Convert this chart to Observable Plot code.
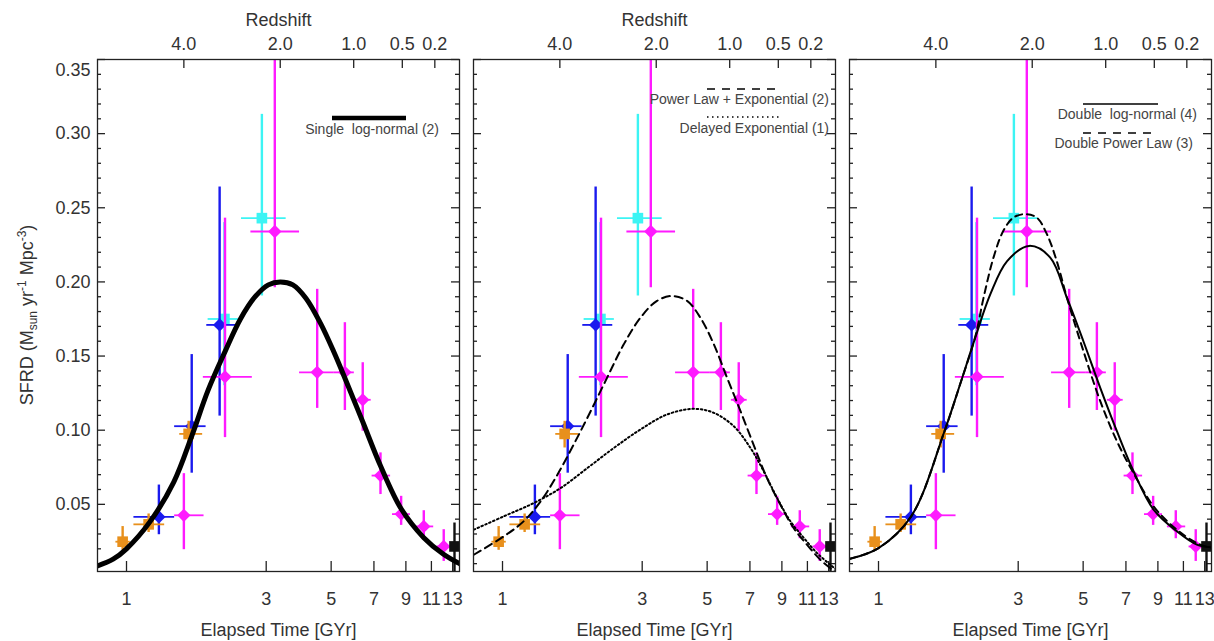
<!DOCTYPE html>
<html>
<head>
<meta charset="utf-8">
<script src="https://cdn.jsdelivr.net/npm/d3@7"></script>
<script src="https://cdn.jsdelivr.net/npm/@observablehq/plot@0.6"></script>
<style>
  body { margin: 0; background: #fff; }
  #root { position: relative; width: 1214px; height: 641px; overflow: hidden; background: #fff;
          font-family: "Liberation Sans", Arial, Helvetica, sans-serif; color: #333; }
  #ylab { position: absolute; left: 27px; top: 315px; transform: translate(-50%, -50%) rotate(-90deg);
          font-size: 18px; white-space: nowrap; color: #333; }
  #ylab sub, #ylab sup { font-size: 12px; line-height: 0; }
</style>
</head>
<body>
<div id="root"></div>
<script>
// ---------- axis ticks ----------
const timeTicks = [1, 3, 5, 7, 9, 11, 13];
const redshiftLabels = ["4.0", "2.0", "1.0", "0.5", "0.2"];
const redshiftAges = [1.57, 3.35, 5.97, 8.75, 11.3];
const sfrdTicks = [0.05, 0.10, 0.15, 0.20, 0.25, 0.30, 0.35];
const sfrdMinorTicks = [0.01, 0.02, 0.03, 0.04, 0.06, 0.07, 0.08, 0.09, 0.11, 0.12, 0.13, 0.14,
  0.16, 0.17, 0.18, 0.19, 0.21, 0.22, 0.23, 0.24, 0.26, 0.27, 0.28, 0.29, 0.31, 0.32, 0.33, 0.34];
const xTitle = "Elapsed Time [GYr]";
const topTitle = "Redshift";

// ---------- observations (t in Gyr, SFRD) ----------
const orangeT   = [0.97, 1.19, 1.63];
const orangeTlo = [0.92, 1.06, 1.52];
const orangeThi = [1.03, 1.35, 1.82];
const orangeV   = [0.0248, 0.0365, 0.0975];
const orangeVlo = [0.019, 0.031, 0.088];
const orangeVhi = [0.035, 0.0435, 0.106];

const blueT   = [1.29, 1.67, 2.08];
const blueTlo = [1.06, 1.46, 1.88];
const blueThi = [1.46, 1.87, 2.38];
const blueV   = [0.0415, 0.1027, 0.171];
const blueVlo = [0.0295, 0.071, 0.1095];
const blueVhi = [0.063, 0.151, 0.264];

const cyanT   = [2.16, 2.90];
const cyanTlo = [1.90, 2.47];
const cyanThi = [2.41, 3.51];
const cyanV   = [0.175, 0.243];
const cyanVlo = [0.13, 0.1905];
const cyanVhi = [0.24, 0.313];

const magentaT   = [1.57, 2.17, 3.21, 4.48, 5.57, 6.41, 7.37, 8.67, 10.36, 12.12];
const magentaTlo = [1.46, 1.83, 2.66, 3.90, 5.10, 6.05, 6.90, 8.10, 9.70, 11.5];
const magentaThi = [1.84, 2.69, 3.90, 5.10, 6.00, 6.85, 7.98, 9.33, 11.2, 12.9];
const magentaV   = [0.0426, 0.136, 0.234, 0.139, 0.139, 0.1205, 0.0694, 0.0434, 0.0351, 0.0216];
const magentaVlo = [0.0194, 0.095, 0.196, 0.1147, 0.1133, 0.0993, 0.0566, 0.0358, 0.0268, 0.0115];
const magentaVhi = [0.0707, 0.243, 0.40, 0.195, 0.1725, 0.1455, 0.0847, 0.0554, 0.0457, 0.0329];

const blackT   = [13.19];
const blackTlo = [12.95];
const blackThi = [13.45];
const blackV   = [0.0216];
const blackVlo = [0.003];
const blackVhi = [0.0374];

// ---------- fitted curves ----------
const slnT = [0.796, 0.9, 1.0, 1.2, 1.45, 1.67, 1.9, 2.17, 2.45, 2.75, 3.05, 3.35, 3.7, 4.1, 4.6, 5.1, 5.6, 6.4, 7.37, 8.67, 10.36, 12.1, 13.72];
const slnV = [0.0085, 0.013, 0.020, 0.038, 0.065, 0.096, 0.127, 0.153, 0.175, 0.190, 0.198, 0.200, 0.198, 0.189, 0.172, 0.153, 0.134, 0.106, 0.076, 0.047, 0.0275, 0.0163, 0.0100];

const plT = [0.798, 1.01, 1.18, 1.35, 1.54, 1.75, 2.0, 2.275, 2.595, 2.96, 3.37, 3.79, 4.27, 4.74, 5.27, 5.85, 6.5, 7.2, 8.0, 8.89, 9.87, 10.96, 12.18, 13.37, 13.72];
const plV = [0.016, 0.0284, 0.0385, 0.052, 0.070, 0.0903, 0.1128, 0.1353, 0.1579, 0.1759, 0.1872, 0.1905, 0.1872, 0.1759, 0.1579, 0.1353, 0.1128, 0.0903, 0.0678, 0.0498, 0.034, 0.0228, 0.0126, 0.0059, 0.0042];

const deT = [0.798, 1.01, 1.28, 1.58, 1.95, 2.4, 2.96, 3.65, 4.5, 5.27, 6.16, 7.03, 7.8, 8.67, 9.63, 10.7, 11.87, 13.16, 13.8];
const deV = [0.0329, 0.0419, 0.0509, 0.061, 0.0745, 0.088, 0.1005, 0.1106, 0.1144, 0.1117, 0.1027, 0.088, 0.0723, 0.0543, 0.0385, 0.0273, 0.0171, 0.0093, 0.006];

const dlnT = [0.80, 1.0, 1.293, 1.68, 1.90, 2.14, 2.41, 2.75, 3.27, 3.86, 4.4, 5.01, 5.72, 6.52, 7.43, 8.7, 10.44, 12.23, 13.72];
const dlnV = [0.0133, 0.0205, 0.0419, 0.0993, 0.131, 0.1624, 0.1917, 0.214, 0.2243, 0.2164, 0.1894, 0.160, 0.1286, 0.0993, 0.0723, 0.0464, 0.0318, 0.0228, 0.021];

const dplT = [0.80, 1.0, 1.293, 1.68, 1.90, 2.14, 2.285, 2.47, 2.67, 2.89, 3.17, 3.47, 3.76, 4.06, 4.4, 5.01, 5.72, 6.52, 7.43, 8.7, 10.44, 12.23, 13.72];
const dplV = [0.0133, 0.0205, 0.0419, 0.0993, 0.131, 0.163, 0.1894, 0.2164, 0.2345, 0.2434, 0.2457, 0.2434, 0.2322, 0.2142, 0.1894, 0.1534, 0.1196, 0.0926, 0.0711, 0.0486, 0.0329, 0.0239, 0.0205];

// ---------- build tables ----------
const rows = (t, tLo, tHi, v, vLo, vHi) => t.map((d, i) => ({t: d, tLo: tLo[i], tHi: tHi[i], v: v[i], vLo: vLo[i], vHi: vHi[i]}));
const pts = (t, v) => t.map((d, i) => ({t: d, v: v[i]}));

const diamondSym = {draw(ctx, size) { const r = Math.sqrt(size) * 0.62625; ctx.moveTo(0, -r); ctx.lineTo(r, 0); ctx.lineTo(0, r); ctx.lineTo(-r, 0); ctx.closePath(); }};

const series = [
  {data: rows(cyanT, cyanTlo, cyanThi, cyanV, cyanVlo, cyanVhi), color: "#3cf4f4", symbol: "square"},
  {data: rows(blueT, blueTlo, blueThi, blueV, blueVlo, blueVhi), color: "#1a1aee", symbol: diamondSym},
  {data: rows(orangeT, orangeTlo, orangeThi, orangeV, orangeVlo, orangeVhi), color: "#e8901c", symbol: "square"},
  {data: rows(magentaT, magentaTlo, magentaThi, magentaV, magentaVlo, magentaVhi), color: "#ff1aff", symbol: diamondSym},
  {data: rows(blackT, blackTlo, blackThi, blackV, blackVlo, blackVhi), color: "#111", symbol: "square"}
];

const zLabel = new Map(redshiftAges.map((a, i) => [a, redshiftLabels[i]]));
const FONT = '"Liberation Sans", Arial, Helvetica, sans-serif';
const W = 362, H = 641, MT = 59, MB = 70, FH = H - MT - MB;
const xDomain = [0.796, 13.72];
const yDomain = [0.0047, 0.35];
const root = document.getElementById("root");

function makePanel({left, ml, mr, curves, yLabels, redshiftTitle}) {
  const ax = {stroke: "#222", strokeWidth: 1.3};
  const lab = {fill: "#333"};
  const marks = [
    Plot.tickX(timeTicks, {x: d => d, insetTop: FH - 10, ...ax}),
    Plot.tickX(redshiftAges, {x: d => d, insetBottom: FH - 9, ...ax}),
    Plot.tickY(sfrdTicks, {y: d => d, insetRight: W - 8, ...ax}),
    Plot.tickY(sfrdTicks, {y: d => d, insetLeft: W - 8, ...ax}),
    Plot.tickY(sfrdMinorTicks, {y: d => d, insetRight: W - 4, ...ax}),
    Plot.tickY(sfrdMinorTicks, {y: d => d, insetLeft: W - 4, ...ax}),
    Plot.text(timeTicks, {x: d => d, text: d => String(d), frameAnchor: "bottom", lineAnchor: "top", dy: 21, ...lab}),
    Plot.text(redshiftAges, {x: d => d, text: d => zLabel.get(d), frameAnchor: "top", lineAnchor: "bottom", dy: -10, ...lab}),
    Plot.text([xTitle], {text: d => d, frameAnchor: "bottom", lineAnchor: "bottom", dy: 64, ...lab})
  ];
  if (redshiftTitle) marks.push(Plot.text([topTitle], {text: d => d, frameAnchor: "top", lineAnchor: "bottom", dy: -34, ...lab}));
  if (yLabels) {
    marks.push(Plot.text(sfrdTicks.filter(d => d < 0.34), {y: d => d, text: d => d.toFixed(2), frameAnchor: "left", textAnchor: "end", dx: -7, ...lab}));
    marks.push(Plot.text(sfrdTicks.filter(d => d > 0.34), {y: d => d, text: d => d.toFixed(2), frameAnchor: "left", textAnchor: "end", dx: -7, dy: 11, ...lab}));
  }
  for (const s of series) {
    marks.push(Plot.ruleX(s.data, {x: "t", y1: "vLo", y2: "vHi", stroke: s.color, strokeWidth: 2.4, clip: true}));
    marks.push(Plot.ruleY(s.data, {y: "v", x1: "tLo", x2: "tHi", stroke: s.color, strokeWidth: 1.8, clip: true}));
    marks.push(Plot.dot(s.data, {x: "t", y: "v", symbol: s.symbol, r: 6, fill: s.color, stroke: "none", clip: true}));
  }
  for (const c of curves) {
    marks.push(Plot.line(c.data, {x: "t", y: "v", curve: "catmull-rom", stroke: "#000", strokeWidth: c.width, strokeDasharray: c.dash, clip: true}));
  }
  marks.push(Plot.frame({stroke: "#222", strokeWidth: 1.3}));
  const svg = Plot.plot({
    width: ml + W + mr, height: H,
    marginLeft: ml, marginRight: mr, marginTop: MT, marginBottom: MB,
    x: {type: "log", domain: xDomain, axis: null},
    y: {domain: yDomain, axis: null},
    style: {fontFamily: FONT, fontSize: "18px", color: "#333", background: "transparent", overflow: "visible"},
    marks
  });
  svg.style.position = "absolute";
  svg.style.left = left + "px";
  svg.style.top = "0px";
  root.appendChild(svg);
}

makePanel({left: 0, ml: 97, mr: 7, yLabels: true, redshiftTitle: true,
  curves: [{data: pts(slnT, slnV), width: 5, dash: null}]});
makePanel({left: 466, ml: 7, mr: 7, yLabels: false, redshiftTitle: true,
  curves: [{data: pts(plT, plV), width: 2, dash: "8,5"}, {data: pts(deT, deV), width: 2, dash: "1.6,2.6"}]});
makePanel({left: 842, ml: 7, mr: 3, yLabels: false, redshiftTitle: false,
  curves: [{data: pts(dlnT, dlnV), width: 2, dash: null}, {data: pts(dplT, dplV), width: 2, dash: "7,5"}]});

// ---------- y axis title ----------
const ylab = document.createElement("div");
ylab.id = "ylab";
ylab.innerHTML = "SFRD (M<sub>sun</sub> yr<sup>-1</sup> Mpc<sup>-3</sup>)";
root.appendChild(ylab);

// ---------- legends ----------
const legendItems = [
  {x1: 332, x2: 406, y: 118, w: 4.5, dash: null, text: "Single  log-normal (2)", tx: 439, ty: 129},
  {x1: 707, x2: 782, y: 89, w: 1.5, dash: "8,7", text: "Power Law + Exponential (2)", tx: 829, ty: 99},
  {x1: 707, x2: 782, y: 117, w: 1.4, dash: "1.5,3.5", text: "Delayed Exponential (1)", tx: 829, ty: 128},
  {x1: 1083, x2: 1158, y: 104, w: 1.3, dash: null, text: "Double  log-normal (4)", tx: 1197, ty: 114},
  {x1: 1083, x2: 1158, y: 133, w: 1.3, dash: "8,7", text: "Double Power Law (3)", tx: 1193, ty: 143}
];
const leg = d3.create("svg").attr("width", 1214).attr("height", 641)
  .style("position", "absolute").style("left", "0px").style("top", "0px").style("pointer-events", "none");
for (const it of legendItems) {
  leg.append("line").attr("x1", it.x1).attr("x2", it.x2).attr("y1", it.y).attr("y2", it.y)
    .attr("stroke", "#000").attr("stroke-width", it.w).attr("stroke-dasharray", it.dash);
  leg.append("text").attr("x", it.tx).attr("y", it.ty).attr("text-anchor", "end").attr("dy", "0.35em")
    .attr("font-family", FONT).attr("font-size", 14).attr("fill", "#444").style("white-space", "pre")
    .attr("xml:space", "preserve").text(it.text);
}
root.appendChild(leg.node());
</script>
</body>
</html>
